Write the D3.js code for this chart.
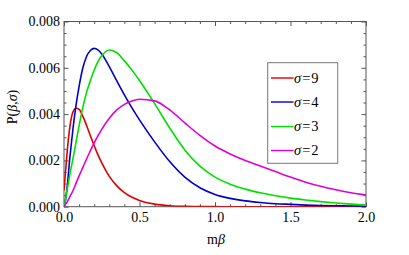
<!DOCTYPE html>
<html>
<head>
<meta charset="utf-8">
<script src="https://cdn.jsdelivr.net/npm/d3@7"></script>
<style>
html,body{margin:0;padding:0;background:#fff;}
svg{display:block;font-family:"Liberation Serif","Times New Roman",serif;}
</style>
</head>
<body>
<svg id="chart" width="409" height="255"></svg>
<script>
// ---- data ----
const xs = [0, 0.01, 0.02, 0.04, 0.06, 0.08, 0.1, 0.125, 0.15, 0.175, 0.2, 0.225, 0.25, 0.3, 0.35, 0.4, 0.45, 0.5, 0.6, 0.7, 0.8, 0.9, 1.0, 1.1, 1.2, 1.3, 1.4, 1.5, 1.6, 1.7, 1.8, 1.9, 2.0];
const sigma9 = [0.0007, 0.0015, 0.0023, 0.0035, 0.0041, 0.00425, 0.0042, 0.0039, 0.0035, 0.00306, 0.00263, 0.00224, 0.00189, 0.00131, 0.0009, 0.00061, 0.00041, 0.00027, 0.00011, 0.00004, 0.000015, 0.000006, 0.000002, 0, 0, 0, 0, 0, 0, 0, 0, 0, 0];
const sigma4 = [0, 0.0003, 0.0008, 0.0022, 0.0034, 0.0044, 0.0052, 0.006, 0.0065, 0.00675, 0.00684, 0.00677, 0.0066, 0.00605, 0.00543, 0.00483, 0.00427, 0.00375, 0.0028, 0.00195, 0.00128, 0.00082, 0.00053, 0.00036, 0.00025, 0.00018, 0.00013, 0.0001, 0.00007, 0.00005, 0.00004, 0.00003, 0.00002];
const sigma3 = [0, 0.0003, 0.0007, 0.00144, 0.0021, 0.0028, 0.0035, 0.0043, 0.00495, 0.00545, 0.0059, 0.00627, 0.00652, 0.00677, 0.00665, 0.0063, 0.0059, 0.00545, 0.00445, 0.0034, 0.00245, 0.00175, 0.00128, 0.00097, 0.00076, 0.0006, 0.00047, 0.00037, 0.00029, 0.00022, 0.00016, 0.00011, 0.00007];
const sigma2 = [0, 0.0001, 0.0002, 0.00045, 0.0007, 0.00102, 0.00133, 0.0017, 0.00207, 0.00242, 0.00276, 0.00306, 0.00334, 0.00382, 0.00418, 0.00442, 0.00457, 0.00464, 0.00457, 0.00418, 0.00362, 0.00308, 0.00262, 0.00228, 0.002, 0.00176, 0.00152, 0.00128, 0.00106, 0.00088, 0.00073, 0.0006, 0.0005];
const seriesNames = ["9", "4", "3", "2"];
const seriesValues = [sigma9, sigma4, sigma3, sigma2];
const seriesColors = ["#dd0000", "#0000cc", "#00e000", "#dd00dd"];
const xTicks = [0, 0.5, 1.0, 1.5, 2.0];
const yTicks = [0, 0.002, 0.004, 0.006, 0.008];

// ---- layout ----
const svg = d3.select("#chart");
const L = 64, R = 366, T = 21.5, B = 206.7;
const x = d3.scaleLinear().domain([0, 2]).range([L, R]);
const y = d3.scaleLinear().domain([0, 0.008]).range([B, T]);

const frameColor = "#555";
const FONT = "'Liberation Serif','Times New Roman',serif";
const g = svg.append("g");

// frame
g.append("rect").attr("x", L).attr("y", T).attr("width", R - L).attr("height", B - T)
  .attr("fill", "none").attr("stroke", frameColor).attr("stroke-width", 1);

const xMinor = d3.range(0, 2.0001, 0.1).filter(v => Math.abs(v * 2 - Math.round(v * 2)) > 1e-6);
const yMinor = d3.range(0, 0.0080001, 0.0005).filter(v => Math.abs(v / 0.002 - Math.round(v / 0.002)) > 1e-6);

function styleAxis(sel) {
  sel.attr("font-family", FONT).attr("font-size", 14);
  sel.select(".domain").remove();
  sel.selectAll(".tick line").attr("stroke", frameColor);
  sel.selectAll(".tick text").attr("fill", "#000");
}

// bottom
g.append("g").attr("transform", `translate(0,${B})`)
  .call(d3.axisBottom(x).tickValues(xTicks).tickFormat(d3.format(".1f")).tickSizeInner(-4.5).tickPadding(5.5))
  .call(styleAxis);
g.append("g").attr("transform", `translate(0,${B})`)
  .call(d3.axisBottom(x).tickValues(xMinor).tickFormat("").tickSizeInner(-2.5))
  .call(styleAxis);
// top
g.append("g").attr("transform", `translate(0,${T})`)
  .call(d3.axisTop(x).tickValues(xTicks).tickFormat("").tickSizeInner(-4.5))
  .call(styleAxis);
g.append("g").attr("transform", `translate(0,${T})`)
  .call(d3.axisTop(x).tickValues(xMinor).tickFormat("").tickSizeInner(-2.5))
  .call(styleAxis);
// left
g.append("g").attr("transform", `translate(${L},0)`)
  .call(d3.axisLeft(y).tickValues(yTicks).tickFormat(d3.format(".3f")).tickSizeInner(-4.5).tickPadding(4))
  .call(styleAxis);
g.append("g").attr("transform", `translate(${L},0)`)
  .call(d3.axisLeft(y).tickValues(yMinor).tickFormat("").tickSizeInner(-2.5))
  .call(styleAxis);
// right
g.append("g").attr("transform", `translate(${R},0)`)
  .call(d3.axisRight(y).tickValues(yTicks).tickFormat("").tickSizeInner(-4.5))
  .call(styleAxis);
g.append("g").attr("transform", `translate(${R},0)`)
  .call(d3.axisRight(y).tickValues(yMinor).tickFormat("").tickSizeInner(-2.5))
  .call(styleAxis);

// curves
const line = d3.line().x(d => x(d[0])).y(d => y(d[1])).curve(d3.curveMonotoneX);
const clip = svg.append("clipPath").attr("id", "plotclip");
clip.append("rect").attr("x", L).attr("y", T).attr("width", R - L).attr("height", B - T);
seriesValues.forEach((vals, i) => {
  g.append("path")
    .datum(xs.map((xv, j) => [xv, vals[j]]))
    .attr("d", line)
    .attr("fill", "none")
    .attr("stroke", seriesColors[i])
    .attr("stroke-width", 1.6)
    .attr("clip-path", "url(#plotclip)");
});

// axis titles
const xt = svg.append("text").attr("x", 216).attr("y", 244).attr("text-anchor", "middle")
  .attr("font-family", FONT).attr("font-size", 14);
xt.append("tspan").text("m");
xt.append("tspan").attr("font-style", "italic").text("β");

const yt = svg.append("text").attr("transform", "translate(17,107) rotate(-90)").attr("text-anchor", "middle")
  .attr("font-family", FONT).attr("font-size", 14);
yt.append("tspan").text("P(");
yt.append("tspan").attr("font-style", "italic").text("β");
yt.append("tspan").text(",");
yt.append("tspan").attr("font-style", "italic").text("σ");
yt.append("tspan").text(")");

// legend
const lg = svg.append("g");
lg.append("rect").attr("x", 267.7).attr("y", 62.7).attr("width", 70).attr("height", 100.6)
  .attr("fill", "#fff").attr("stroke", "#777").attr("stroke-width", 1);
const legY = [78, 102, 126.5, 150.5];
seriesNames.forEach((n, i) => {
  lg.append("line").attr("x1", 271).attr("x2", 293.5).attr("y1", legY[i]).attr("y2", legY[i])
    .attr("stroke", seriesColors[i]).attr("stroke-width", 1.4);
  const t = lg.append("text").attr("x", 294).attr("y", legY[i] + 4.5)
    .attr("font-family", FONT).attr("font-size", 14.5);
  t.append("tspan").attr("font-style", "italic").text("σ");
  t.append("tspan").attr("dx", 1).text("=");
  t.append("tspan").attr("dx", 1).text(n);
});
</script>
</body>
</html>
